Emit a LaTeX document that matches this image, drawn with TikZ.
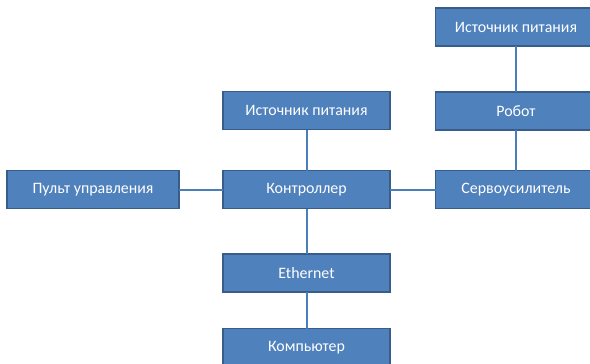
\documentclass[tikz,border=0pt]{standalone}
\usepackage{fontspec}
\setmainfont{Carlito}
\definecolor{boxfill}{HTML}{4F81BD}
\definecolor{boxedge}{HTML}{385D8A}
\definecolor{linkcol}{HTML}{4A7EBB}
\tikzset{
  blk/.style={draw=boxedge, line width=1.5pt, fill=boxfill, text=white,
    minimum height=38pt, inner sep=0pt, outer sep=0pt,
    font=\fontsize{15.9}{18}\selectfont},
  link/.style={draw=linkcol, line width=2pt}
}
\begin{document}
\begin{tikzpicture}[x=1pt,y=-1pt]
\useasboundingbox (0,0) rectangle (590,364);
\clip (0,0) rectangle (590,364);
\fill[white] (0,0) rectangle (590,364);
\node[blk, minimum width=161pt] (ps2) at (516,27) {Источник питания};
\node[blk, minimum width=161pt] (robot) at (516,111) {Робот};
\node[blk, minimum width=161pt] (servo) at (516,189.5) {Сервоусилитель};
\node[blk, minimum width=167pt] (ps1) at (306.5,110.5) {Источник питания};
\node[blk, minimum width=167pt] (ctrl) at (306.5,189.5) {Контроллер};
\node[blk, minimum width=172pt] (pult) at (93,189.5) {Пульт управления};
\node[blk, minimum width=167pt] (eth) at (306.5,273) {Ethernet};
\node[blk, minimum width=167pt] (comp) at (306.5,347.5) {Компьютер};
\draw[link] (ps1.south) -- (ctrl.north);
\draw[link] (pult.east) -- (ctrl.west);
\draw[link] (ctrl.east) -- (servo.west);
\draw[link] (ctrl.south) -- (eth.north);
\draw[link] (eth.south) -- (comp.north);
\draw[link] (ps2.south) -- (robot.north);
\draw[link] (robot.south) -- (servo.north);
\end{tikzpicture}
\end{document}
